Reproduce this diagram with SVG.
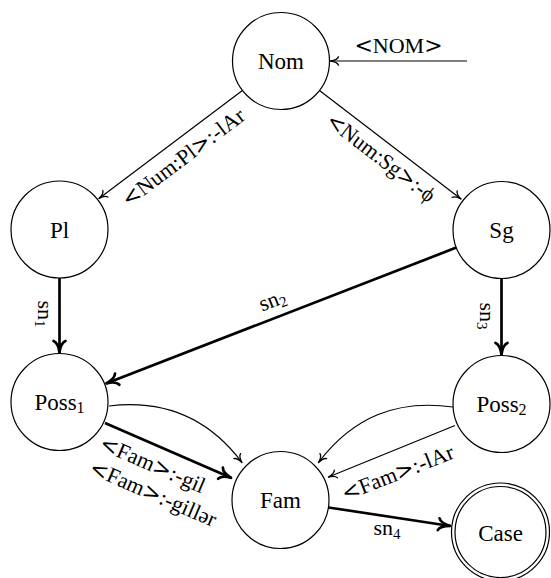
<svg xmlns="http://www.w3.org/2000/svg" width="551" height="578" viewBox="0 0 551 578">
<style>
.node{fill:#fff;stroke:#000;stroke-width:1.2}
text{font-family:'Liberation Serif','DejaVu Serif',serif;fill:#000;text-anchor:middle}
.nl{font-size:23px}
.el{font-size:22px}
.br{font-family:'DejaVu Serif',serif}
.thin{fill:none;stroke:#000;stroke-width:1.2;marker-end:url(#aThin)}
.thick{fill:none;stroke:#000;stroke-width:2.7;marker-end:url(#aThick)}
</style>
<defs>
<marker id="aThin" markerUnits="userSpaceOnUse" markerWidth="20" markerHeight="20" refX="0" refY="0" orient="auto" viewBox="-10 -10 20 20" overflow="visible">
<path d="M-8,-4.2 C-7,-1.6 -3,-0.4 0,0 C-3,0.4 -7,1.6 -8,4.2" fill="none" stroke="#000" stroke-width="1.3" stroke-linecap="round" stroke-linejoin="round"/>
</marker>
<marker id="aThick" markerUnits="userSpaceOnUse" markerWidth="30" markerHeight="30" refX="0" refY="0" orient="auto" viewBox="-15 -15 30 30" overflow="visible">
<path d="M-12,-6 C-10.5,-2.2 -4.5,-0.6 -0.5,0 C-4.5,0.6 -10.5,2.2 -12,6" fill="none" stroke="#000" stroke-width="2.7" stroke-linecap="round" stroke-linejoin="round"/>
</marker>
</defs>

<g id="connectors">
<path class="thin" d="M467,61 L330.5,61"/>
<path class="thin" d="M242.4,90.4 L99,198.5"/>
<path class="thin" d="M319.5,90.5 L461,199"/>
<path class="thick" d="M59.5,278 L59.5,353"/>
<path class="thick" d="M501.5,278.5 L501.5,355"/>
<path class="thick" d="M456.3,247.6 L106,383.5"/>
<path class="thin" d="M109,406 C164.6,399.2 208,417.4 242,462.5"/>
<path class="thick" d="M105,423 L231.5,478"/>
<path class="thin" d="M453,407 C396.5,399.2 353,417 318.5,462.5"/>
<path class="thin" d="M455,425.5 L328.5,477"/>
<path class="thick" d="M328.5,507.5 L450.5,526"/>

<text class="el" x="398.5" y="52.5"><tspan class="br">&lt;</tspan>NOM<tspan class="br">&gt;</tspan></text>
<text class="el" transform="translate(183,157) rotate(-37)" x="0" y="7.6"><tspan class="br">&lt;</tspan>Num:Pl<tspan class="br">&gt;</tspan>:-lAr</text>
<text class="el" transform="translate(380,159) rotate(37.5)" x="0" y="5.5" textLength="131" lengthAdjust="spacingAndGlyphs"><tspan class="br">&lt;</tspan>Num:Sg<tspan class="br">&gt;</tspan>:-ϕ</text>
<text class="el" transform="translate(43.3,314) rotate(90)" x="0" y="5">sn<tspan font-size="15" dy="3.5">1</tspan></text>
<text class="el" transform="translate(485,316) rotate(90)" x="0" y="5">sn<tspan font-size="15" dy="3.5">3</tspan></text>
<text class="el" transform="translate(273,302) rotate(-21.3)" x="0" y="5">sn<tspan font-size="15" dy="3.5">2</tspan></text>
<text class="el" transform="translate(152,466) rotate(23.5)" x="0" y="5.5"><tspan class="br">&lt;</tspan>Fam<tspan class="br">&gt;</tspan>:-gil</text>
<text class="el" transform="translate(152.5,495) rotate(23.5)" x="0" y="5.5"><tspan class="br">&lt;</tspan>Fam<tspan class="br">&gt;</tspan>:-gillər</text>
<text class="el" transform="translate(397.5,472.5) rotate(-21.5)" x="0" y="7.6"><tspan class="br">&lt;</tspan>Fam<tspan class="br">&gt;</tspan>:-lAr</text>
<text class="el" x="387" y="535">sn<tspan font-size="15" dy="3.5">4</tspan></text>
</g>

<g id="node-Nom">
<circle class="node" cx="281" cy="61" r="48.5"/>
<text class="nl" x="281" y="69">Nom</text>
</g>
<g id="node-Pl">
<circle class="node" cx="59.5" cy="229.5" r="48.5"/>
<text class="nl" x="59.5" y="237.5">Pl</text>
</g>
<g id="node-Sg">
<circle class="node" cx="501.5" cy="230" r="48.5"/>
<text class="nl" x="501.5" y="238">Sg</text>
</g>
<g id="node-Poss1">
<circle class="node" cx="59.5" cy="402" r="48.5"/>
<text class="nl" x="59.5" y="410">Poss<tspan font-size="16" dy="2.5">1</tspan></text>
</g>
<g id="node-Poss2">
<circle class="node" cx="501.5" cy="404" r="48.5"/>
<text class="nl" x="501.5" y="412">Poss<tspan font-size="16" dy="2.5">2</tspan></text>
</g>
<g id="node-Fam">
<circle class="node" cx="280.5" cy="500" r="48.5"/>
<text class="nl" x="280.5" y="508">Fam</text>
</g>
<g id="node-Case">
<circle class="node" cx="500.5" cy="532" r="49"/>
<circle class="node" cx="500.5" cy="532" r="45.5"/>
<text class="nl" x="500.5" y="541">Case</text>
</g>
</svg>
